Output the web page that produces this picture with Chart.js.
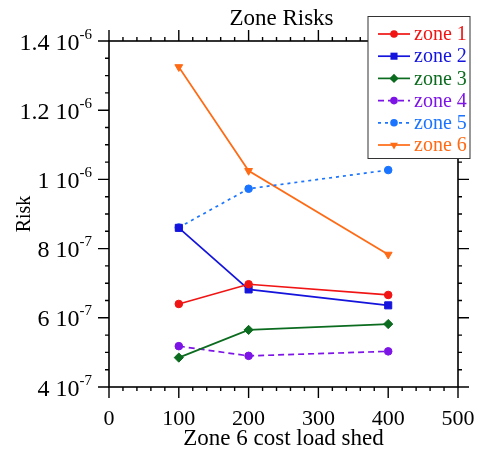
<!DOCTYPE html>
<html>
<head>
<meta charset="utf-8">
<script src="https://cdn.jsdelivr.net/npm/chart.js@4.4.1/dist/chart.umd.min.js"></script>
<style>
  html, body { margin: 0; padding: 0; background: #fff; }
  #riskChart { display: block; }
</style>
</head>
<body>
<canvas id="riskChart" width="478" height="451"></canvas>
<script>
// Zone Risks chart

// DATA
const costs = [100, 200, 400];
const zoneNames = ["zone 1", "zone 2", "zone 3", "zone 4", "zone 5", "zone 6"];
const zone1 = [6.40e-7, 6.97e-7, 6.66e-7];
const zone2 = [8.60e-7, 6.82e-7, 6.36e-7];
const zone3 = [4.85e-7, 5.65e-7, 5.82e-7];
const zone4 = [5.18e-7, 4.90e-7, 5.03e-7];
const zone5 = [8.61e-7, 9.73e-7, 1.027e-6];
const zone6 = [1.325e-6, 1.025e-6, 7.83e-7];
const xTicks = [0, 100, 200, 300, 400, 500];
const yTicks = [4e-7, 6e-7, 8e-7, 1e-6, 1.2e-6, 1.4e-6];

const FONT = "'Liberation Serif', 'Times New Roman', serif";

// look of each zone
const styles = [
  { color: "#f01414", point: "circle", radius: 3.8, dash: [] },
  { color: "#1414dc", point: "rect", radius: 5, dash: [] },
  { color: "#0b6b1e", point: "rectRot", radius: 4.6, dash: [] },
  { color: "#7d14e6", point: "circle", radius: 3.8, dash: [6, 4] },
  { color: "#1a74ff", point: "circle", radius: 3.8, dash: [3, 4] },
  { color: "#ff6a14", point: "triangle", radius: 4.5, dash: [] },
];

const series = [zone1, zone2, zone3, zone4, zone5, zone6];

const datasets = series.map((vals, i) => ({
  label: zoneNames[i],
  data: costs.map((c, j) => ({ x: c, y: vals[j] })),
  borderColor: styles[i].color,
  backgroundColor: styles[i].color,
  borderWidth: 1.7,
  borderDash: styles[i].dash,
  pointStyle: styles[i].point,
  pointRadius: styles[i].radius,
  pointRotation: styles[i].point === "triangle" ? 180 : 0,
  pointBorderWidth: 1,
  tension: 0,
}));

// box, tick marks, y labels with exponent
const framePlugin = {
  id: "frame",
  afterDatasetsDraw(chart) {
    const { ctx, chartArea: a, scales } = chart;
    ctx.save();
    ctx.strokeStyle = "#000";
    ctx.lineWidth = 1.6;
    ctx.strokeRect(a.left, a.top, a.right - a.left, a.bottom - a.top);

    ctx.lineWidth = 1.4;
    ctx.beginPath();
    for (let v = 0; v <= 500; v += 20) {
      const x = scales.x.getPixelForValue(v);
      const len = v % 100 === 0 ? 11 : 4;
      ctx.moveTo(x, a.bottom);
      ctx.lineTo(x, a.bottom + len);
      ctx.moveTo(x, a.top);
      ctx.lineTo(x, a.top - len);
    }
    for (let i = 0; i <= 20; i++) {
      const y = scales.y.getPixelForValue(4e-7 + i * 5e-8);
      const len = i % 4 === 0 ? 11 : 4;
      ctx.moveTo(a.left, y);
      ctx.lineTo(a.left - len, y);
      ctx.moveTo(a.right, y);
      ctx.lineTo(a.right + len, y);
    }
    ctx.stroke();

    // y tick labels  "1.4 10^-6"
    ctx.fillStyle = "#000";
    ctx.textBaseline = "alphabetic";
    ctx.textAlign = "left";
    const xRight = a.left - 17;
    scales.y.ticks.forEach((t) => {
      const v = t.value;
      const exp = Math.floor(Math.log10(v) + 1e-9);
      const mant = +(v / Math.pow(10, exp)).toFixed(1);
      const base = mant + " 10";
      const sup = String(exp);
      const y = scales.y.getPixelForValue(v);
      ctx.font = "15px " + FONT;
      const supW = ctx.measureText(sup).width;
      ctx.fillText(sup, xRight - supW, y - 2.5);
      ctx.font = "24px " + FONT;
      const baseW = ctx.measureText(base).width;
      ctx.fillText(base, xRight - supW - baseW, y + 8.5);
    });
    ctx.restore();
  },
  afterDraw(chart) {
    const { ctx, chartArea: a } = chart;
    ctx.save();
    // TITLE
    ctx.fillStyle = "#000";
    ctx.font = "23px " + FONT;
    ctx.textAlign = "center";
    ctx.textBaseline = "alphabetic";
    ctx.fillText("Zone Risks", (a.left + a.right) / 2 - 2, 25);

    // LEGEND
    const bx = 368, by = 16.5, bw = 102, bh = 142;
    ctx.fillStyle = "#fff";
    ctx.fillRect(bx, by, bw, bh);
    ctx.strokeStyle = "#333";
    ctx.lineWidth = 1;
    ctx.strokeRect(bx, by, bw, bh);
    ctx.font = "20px " + FONT;
    ctx.textAlign = "left";
    ctx.textBaseline = "middle";
    chart.data.datasets.forEach((ds, i) => {
      const y = 34 + i * 22.2;
      const st = styles[i];
      ctx.strokeStyle = st.color;
      ctx.fillStyle = st.color;
      ctx.lineWidth = 1.7;
      ctx.setLineDash(st.dash);
      ctx.beginPath();
      ctx.moveTo(378, y);
      ctx.lineTo(410, y);
      ctx.stroke();
      ctx.setLineDash([]);
      drawMarker(ctx, st.point, 394, y, st.radius);
      ctx.fillText(ds.label, 414, y + 1);
    });
    ctx.restore();
  },
};

function drawMarker(ctx, type, x, y, r) {
  ctx.beginPath();
  if (type === "circle") {
    ctx.arc(x, y, r, 0, Math.PI * 2);
  } else if (type === "rect") {
    const s = r * Math.SQRT1_2;
    ctx.rect(x - s, y - s, 2 * s, 2 * s);
  } else if (type === "rectRot") {
    ctx.moveTo(x, y - r);
    ctx.lineTo(x + r, y);
    ctx.lineTo(x, y + r);
    ctx.lineTo(x - r, y);
    ctx.closePath();
  } else if (type === "triangle") {
    ctx.moveTo(x - r * 0.87, y - r * 0.5);
    ctx.lineTo(x + r * 0.87, y - r * 0.5);
    ctx.lineTo(x, y + r);
    ctx.closePath();
  }
  ctx.fill();
}

// CHART
new Chart(document.getElementById("riskChart"), {
  type: "line",
  data: { datasets },
  plugins: [framePlugin],
  options: {
    responsive: false,
    animation: false,
    devicePixelRatio: 1,
    layout: { padding: { top: 41, right: 20, bottom: 0, left: 0 } },
    plugins: {
      legend: { display: false },
      title: { display: false },
      tooltip: { enabled: false },
    },
    scales: {
      x: {
        type: "linear",
        min: 0,
        max: 500,
        afterBuildTicks: (s) => { s.ticks = xTicks.map((v) => ({ value: v })); },
        afterFit: (s) => {
          s.height = 64;
          s.paddingLeft = 0;
          s.paddingRight = 0;
        },
        grid: { display: false, drawTicks: false },
        border: { display: false },
        ticks: {
          color: "#000",
          font: { family: FONT, size: 22 },
          padding: 19,
          maxRotation: 0,
        },
        title: {
          display: true,
          text: "Zone 6 cost load shed",
          color: "#000",
          font: { family: FONT, size: 23 },
          padding: { top: 0, bottom: -2 },
        },
      },
      y: {
        type: "linear",
        min: 4e-7,
        max: 1.4e-6,
        afterBuildTicks: (s) => { s.ticks = yTicks.map((v) => ({ value: v })); },
        afterFit: (s) => { s.width = 109; },
        grid: { display: false, drawTicks: false },
        border: { display: false },
        ticks: { display: false },
        title: {
          display: true,
          text: "Risk",
          color: "#000",
          font: { family: FONT, size: 20 },
          padding: { top: 13, bottom: 0 },
        },
      },
    },
  },
});
</script>
</body>
</html>
